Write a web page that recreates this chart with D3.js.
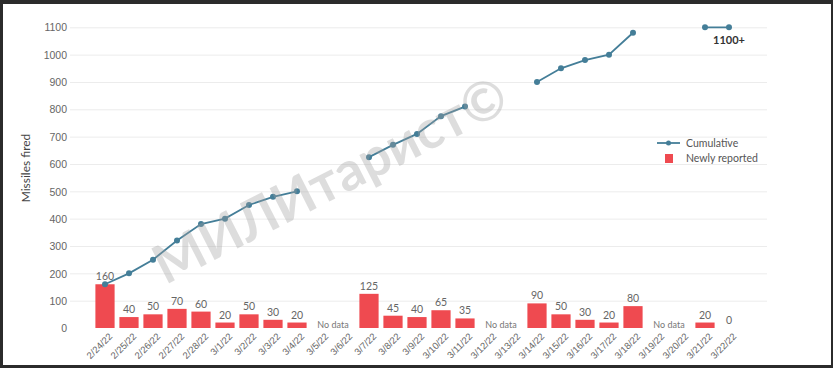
<!DOCTYPE html>
<html>
<head>
<meta charset="utf-8">
<style>
    body { margin: 0; background: #2b2b2b; }
    svg { display: block; font-family: Lato, sans-serif; }
    .grid line { stroke: #ececec; stroke-width: 1; }
    .grid .domain { display: none; }
    .y .domain, .x .domain { display: none; }
    .y .tick line, .x .tick line { display: none; }
    .y .tick text { font-size: 10.5px; fill: #666; }
    .x .tick text { font-size: 9.5px; fill: #666; }
</style>
</head>
<body>
<svg width="833" height="368"></svg>
<script src="https://d3js.org/d3.v7.min.js"></script>
<script>
    // dates on the x axis
    let dates = ["2/24/22", "2/25/22", "2/26/22", "2/27/22", "2/28/22", "3/1/22", "3/2/22", "3/3/22", "3/4/22",
        "3/5/22", "3/6/22", "3/7/22", "3/8/22", "3/9/22", "3/10/22", "3/11/22", "3/12/22", "3/13/22",
        "3/14/22", "3/15/22", "3/16/22", "3/17/22", "3/18/22", "3/19/22", "3/20/22", "3/21/22", "3/22/22"]

    // newly reported (null = no data)
    let newlyReported = [160, 40, 50, 70, 60, 20, 50, 30, 20,
        null, null, 125, 45, 40, 65, 35, null, null,
        90, 50, 30, 20, 80, null, null, 20, 0]

    // cumulative total
    let cumulative = [160, 200, 250, 320, 380, 400, 450, 480, 500,
        null, null, 625, 670, 710, 775, 810, null, null,
        900, 950, 980, 1000, 1080, null, null, 1100, 1100]

    // "No data" gaps, label sits between the two dates
    let noDataPairs = [["3/5/22", "3/6/22"], ["3/12/22", "3/13/22"], ["3/19/22", "3/20/22"]]

    let yTicks = [0, 100, 200, 300, 400, 500, 600, 700, 800, 900, 1000, 1100]

    let svg = d3.select("svg")

    // white panel inside the dark frame
    svg.append("rect")
        .attr("x", 3).attr("y", 4)
        .attr("width", 828).attr("height", 361)
        .attr("fill", "#fff")

    let rows = dates.map((d, i) => ({ date: d, newly: newlyReported[i], cum: cumulative[i] }))

    let x = d3.scaleBand()
        .domain(dates)
        .range([93, 741])
        .paddingInner(0.2)
        .paddingOuter(0.1)

    let y = d3.scaleLinear()
        .domain([0, 1100])
        .range([328, 27.3])

    // grid
    svg.append("g")
        .attr("class", "grid")
        .attr("transform", "translate(70,0)")
        .call(d3.axisLeft(y).tickValues(yTicks.slice(1)).tickSize(-697).tickFormat(""))

    // y axis labels
    svg.append("g")
        .attr("class", "y axis")
        .attr("transform", "translate(67,0)")
        .call(d3.axisLeft(y).tickValues(yTicks).tickFormat(d3.format("d")).tickSize(0).tickPadding(0))
        .selectAll("text")
        .attr("dy", "0.35em")

    svg.append("text")
        .attr("transform", "translate(30,168) rotate(-90)")
        .attr("text-anchor", "middle")
        .style("font-size", "12px")
        .style("fill", "#444")
        .text("Missiles fired")

    // bars
    let barData = rows.filter(d => d.newly != null)

    svg.append("g")
        .selectAll("rect")
        .data(barData)
        .join("rect")
        .attr("x", d => x(d.date))
        .attr("width", x.bandwidth())
        .attr("y", d => y(d.newly))
        .attr("height", d => y(0) - y(d.newly))
        .attr("fill", "#ef4a50")

    svg.append("g")
        .selectAll("text")
        .data(barData)
        .join("text")
        .attr("x", d => x(d.date) + x.bandwidth() / 2)
        .attr("y", d => y(d.newly) - 4)
        .attr("text-anchor", "middle")
        .style("font-size", "10.5px")
        .style("fill", "#666")
        .text(d => d.newly)

    // no data labels
    svg.append("g")
        .selectAll("text")
        .data(noDataPairs)
        .join("text")
        .attr("x", d => (x(d[0]) + x(d[1]) + x.bandwidth()) / 2)
        .attr("y", y(0))
        .attr("text-anchor", "middle")
        .style("font-size", "9px")
        .style("fill", "#777")
        .text("No data")

    // cumulative line
    let line = d3.line()
        .defined(d => d.cum != null)
        .x(d => x(d.date) + x.bandwidth() / 2)
        .y(d => y(d.cum))

    svg.append("path")
        .datum(rows)
        .attr("d", line)
        .attr("fill", "none")
        .attr("stroke", "#447e98")
        .attr("stroke-width", 1.8)

    svg.append("g")
        .selectAll("circle")
        .data(rows.filter(d => d.cum != null))
        .join("circle")
        .attr("cx", d => x(d.date) + x.bandwidth() / 2)
        .attr("cy", d => y(d.cum))
        .attr("r", 3)
        .attr("fill", "#447e98")

    svg.append("text")
        .attr("x", x("3/22/22") + x.bandwidth() / 2)
        .attr("y", y(1100) + 17)
        .attr("text-anchor", "middle")
        .style("font-size", "11px")
        .style("font-weight", "bold")
        .style("fill", "#333")
        .text("1100+")

    // x axis labels
    svg.append("g")
        .attr("class", "x axis")
        .attr("transform", "translate(0,333)")
        .call(d3.axisBottom(x).tickSize(0).tickPadding(0))
        .selectAll("text")
        .attr("text-anchor", "end")
        .attr("dy", "0.6em")
        .attr("transform", "translate(4,0) rotate(-45)")

    // legend
    let legend = svg.append("g").attr("transform", "translate(657,143)")
    legend.append("line")
        .attr("x1", 0).attr("x2", 23)
        .attr("stroke", "#447e98").attr("stroke-width", 1.8)
    legend.append("circle").attr("cx", 11.5).attr("r", 2.5).attr("fill", "#447e98")
    legend.append("text")
        .attr("x", 29).attr("dy", "0.35em")
        .style("font-size", "10.5px").style("fill", "#555")
        .text("Cumulative")
    legend.append("rect")
        .attr("x", 8).attr("y", 11)
        .attr("width", 8).attr("height", 9)
        .attr("fill", "#ef4a50")
    legend.append("text")
        .attr("x", 29).attr("y", 15.5).attr("dy", "0.35em")
        .style("font-size", "10.5px").style("fill", "#555")
        .text("Newly reported")

    // watermark laid over the chart
    svg.append("text")
        .attr("transform", "translate(330,180) rotate(-27)")
        .attr("text-anchor", "middle")
        .attr("dy", "0.35em")
        .style("font-size", "54px")
        .style("font-weight", "bold")
        .style("fill", "#a0a0a0")
        .style("opacity", 0.35)
        .text("МИЛИтарист©")
</script>
</body>
</html>
